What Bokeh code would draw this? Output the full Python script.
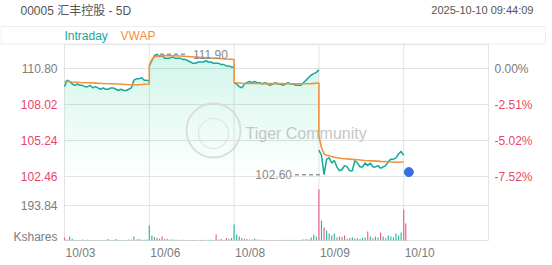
import numpy as np
from bokeh.plotting import figure
from bokeh.models import Range1d, Label
from bokeh.embed import file_html
from bokeh.resources import INLINE

# ---------------- data ----------------
TITLE = "00005 汇丰控股 - 5D"
TIMESTAMP = "2025-10-10  09:44:09"
DAYS = ["10/03", "10/06", "10/08", "10/09", "10/10"]
SESSION_MINUTES = 330
PREV_CLOSE = 110.80
PRICE_TICKS = [110.80, 108.02, 105.24, 102.46]
PCT_LABELS = ["0.00%", "-2.51%", "-5.02%", "-7.52%"]
VOL_TICK = 193.84
VOL_UNIT = "Kshares"
LEGEND = ["Intraday", "VWAP"]
WATERMARK = "Tiger Community"

PRICE_MINUTES = list(range(0, 331, 10))
price_1003 = [109.4, 109.9, 109.8, 109.6, 109.5, 109.6, 109.5, 109.5, 109.4, 109.4,
              109.5, 109.3, 109.4, 109.3, 109.2, 109.3, 109.2, 109.2, 109.3, 109.3,
              109.2, 109.1, 109.2, 109.1, 109.1, 109.2, 109.3, 109.9, 110.0, 110.0,
              110.1, 109.9, 109.9, 109.8]
price_1006 = [111.0, 111.4, 111.8, 111.9, 111.7, 111.8, 111.6, 111.6, 111.6, 111.7,
              111.6, 111.6, 111.6, 111.5, 111.5, 111.4, 111.3, 111.2, 111.2, 111.3,
              111.3, 111.3, 111.4, 111.3, 111.3, 111.2, 111.2, 111.2, 111.1, 111.1,
              111.0, 111.0, 110.9, 110.9]
price_1008 = [109.7, 109.6, 109.4, 109.3, 109.6, 109.7, 109.8, 109.7, 109.8, 109.7,
              109.7, 109.6, 109.7, 109.6, 109.5, 109.6, 109.7, 109.6, 109.6, 109.5,
              109.6, 109.7, 109.6, 109.6, 109.5, 109.5, 109.5, 109.7, 109.9, 110.1,
              110.3, 110.4, 110.5, 110.7]
price_1009 = [104.5, 104.1, 102.6, 103.8, 103.9, 103.5, 103.7, 103.2, 102.9, 103.0,
              103.3, 103.2, 102.9, 102.9, 103.7, 103.5, 103.2, 103.2, 103.5, 103.3,
              103.5, 103.2, 103.2, 103.3, 103.1, 103.2, 103.3, 103.6, 103.8, 103.8,
              103.9, 104.2, 104.4, 104.1]
price_1010_minutes = [20]
price_1010 = [102.8]

VWAP_MINUTES = [0, 10, 20, 30, 60, 90, 120, 150, 180, 210, 240, 270, 300, 330]
vwap_1003 = [109.80, 109.80, 109.79, 109.76, 109.72, 109.70, 109.67, 109.64, 109.62,
             109.60, 109.56, 109.53, 109.56, 109.60]
vwap_1006 = [111.05, 111.50, 111.70, 111.75, 111.80, 111.79, 111.77, 111.73, 111.69,
             111.65, 111.61, 111.57, 111.53, 111.50]
vwap_1008 = [109.72, 109.70, 109.68, 109.66, 109.64, 109.64, 109.63, 109.63, 109.63,
             109.62, 109.62, 109.62, 109.63, 109.68]
vwap_1009 = [105.60, 104.70, 104.20, 104.10, 103.95, 103.85, 103.80, 103.75, 103.70,
             103.67, 103.63, 103.60, 103.56, 103.58]

VOL_MINUTES = list(range(0, 321, 10))
vol_1003 = [17, 5, 22, 10, 4, 3, 3, 6, 3, 4, 3, 3, 3, 3, 3, 3, 4, 8, 3, 3, 8, 4, 3, 3, 3,
            5, 4, 22, 6, 8, 4, 4, 6]
dir_1003 = [-1, 1, 1, 1, 0, 1, -1, 1, 0, -1, 1, 0, -1, 1, 0, 1, -1, 1, 0, -1, 1, 1, 0, -1,
            1, 0, -1, 1, 1, -1, 0, 1, 1]
vol_1006 = [83, 28, 20, 15, 10, 22, 8, 10, 5, 6, 4, 4, 3, 4, 3, 3, 3, 3, 3, 3, 3, 3, 4, 3,
            4, 3, 33, 6, 8, 3, 14, 10, 14]
dir_1006 = [1, 1, 1, -1, 1, -1, 1, 0, -1, 1, 0, -1, 1, 0, 1, -1, 0, 1, -1, 0, 1, -1, 0, 1,
            1, -1, -1, 1, -1, 0, -1, 1, 1]
vol_1008 = [89, 33, 22, 14, 10, 8, 5, 5, 11, 5, 4, 4, 3, 3, 3, 3, 3, 3, 3, 4, 3, 3, 3, 4,
            3, 3, 4, 6, 8, 6, 17, 33, 22]
dir_1008 = [1, 1, -1, 1, -1, 1, 0, -1, 1, 0, 1, -1, 0, 1, -1, 0, 1, 0, -1, 1, 0, -1, 1, 0,
            -1, 1, 1, 1, 1, -1, 1, 1, 1]
vol_1009 = [282, 111, 72, 55, 39, 28, 39, 17, 22, 20, 28, 11, 14, 17, 11, 14, 8, 14, 17, 50,
            22, 14, 22, 17, 44, 22, 14, 28, 22, 17, 39, 28, 44]
dir_1009 = [-1, 1, -1, 1, 1, -1, 1, 0, -1, 1, -1, 0, 1, 1, -1, 0, 1, 1, 1, -1, 1, 0, -1, 1,
            -1, 1, 0, 1, 1, 1, 1, 1, 1]
vol_1010_minutes = [0, 8]
vol_1010 = [172, 94]
dir_1010 = [-1, -1]

# ---------------- style / layout ----------------
FONT = "Liberation Sans, Noto Sans CJK SC"
GRID = "#e3e3e3"
GRAY = "#7c7c7c"
RED = "#e8476a"
TEAL = "#15a99b"
ORANGE = "#f3913a"
FILL = "#22d39a"
BAR_COLORS = {1: "#2bb9a4", -1: "#ee5c80", 0: "#9b9b9b"}
DOT = "#3a6fe3"

W, H = 552, 265
PLOT_L, PLOT_R, PLOT_T, PLOT_B = 64, 488, 44, 240
TICK0_PX, TICK_STEP_PX = 68, 36
VOL_TICK_PX = 205

X_END = SESSION_MINUTES * len(DAYS)
PX2MIN = X_END / (PLOT_R - PLOT_L)
PPX = (PRICE_TICKS[0] - PRICE_TICKS[1]) / TICK_STEP_PX
VPX = VOL_TICK / (PLOT_B - VOL_TICK_PX)


def fx(px):
    return (px - PLOT_L) * PX2MIN


def fy(px):
    return PRICE_TICKS[0] + (TICK0_PX - px) * PPX


p = figure(width=W, height=H, x_range=Range1d(fx(0), fx(W)), y_range=Range1d(fy(H), fy(0)),
           output_backend="svg", toolbar_location=None, x_axis_location=None,
           y_axis_location=None, min_border=0)
p.outline_line_color = None
p.grid.visible = False
p.extra_y_ranges = {"vol": Range1d(-(H - PLOT_B) * VPX, PLOT_B * VPX)}

Y_TOP, Y_BOT = fy(PLOT_T), fy(PLOT_B)

# legend strip box
p.quad(left=[fx(0.5)], right=[fx(545)], top=[fy(26)], bottom=[fy(43.5)],
       fill_color=None, line_color="#eeeeee", line_width=1)

# grid lines
day_edges = [i * SESSION_MINUTES for i in range(len(DAYS) + 1)]
p.segment(x0=day_edges, y0=[Y_BOT] * len(day_edges), x1=day_edges, y1=[Y_TOP] * len(day_edges),
          line_color=GRID, line_width=1)
p.segment(x0=[0] * len(PRICE_TICKS), y0=PRICE_TICKS, x1=[X_END] * len(PRICE_TICKS),
          y1=PRICE_TICKS, line_color=GRID, line_width=1)
p.segment(x0=[0], y0=[VOL_TICK], x1=[X_END], y1=[VOL_TICK], y_range_name="vol",
          line_color=GRID, line_width=1)
p.segment(x0=[0, 0], y0=[Y_TOP, Y_BOT], x1=[X_END, X_END], y1=[Y_TOP, Y_BOT],
          line_color=GRID, line_width=1)

day_prices = [price_1003, price_1006, price_1008, price_1009]
day_vwaps = [vwap_1003, vwap_1006, vwap_1008, vwap_1009]

# gradient fill under intraday line
FILL_LO, FILL_HI, N_BANDS = 102.5, 112.0, 24
edges = np.linspace(FILL_LO, Y_TOP, N_BANDS + 1)
for d, prices in enumerate(day_prices):
    xs = d * SESSION_MINUTES + np.array(PRICE_MINUTES)
    ys = np.array(prices)
    for k in range(N_BANDS):
        lo, hi = edges[k], edges[k + 1]
        mid = min((lo + hi) / 2, FILL_HI)
        a = 0.21 * (mid - FILL_LO) / (FILL_HI - FILL_LO)
        p.varea(x=xs, y1=np.full_like(ys, lo), y2=np.clip(ys, lo, hi),
                fill_color=FILL, fill_alpha=a)

# watermark
p.scatter([fx(213)], [fy(130)], size=54, fill_color=None, line_color="#dadada", line_width=1.8)
p.scatter([fx(213)], [fy(133)], size=30, fill_color=None, line_color="#e2e2e2", line_width=1.2)
p.add_layout(Label(x=fx(245), y=fy(133), text=WATERMARK, text_align="left",
                   text_baseline="middle", text_font=FONT, text_font_size="16px",
                   text_color="#c6c6c6"))

# volume bars
vxs, vtops, vcols = [], [], []
for d, (vols, dirs) in enumerate([(vol_1003, dir_1003), (vol_1006, dir_1006),
                                   (vol_1008, dir_1008), (vol_1009, dir_1009)]):
    vxs += [d * SESSION_MINUTES + m for m in VOL_MINUTES]
    vtops += vols
    vcols += [BAR_COLORS[s] for s in dirs]
vxs += [4 * SESSION_MINUTES + m for m in vol_1010_minutes]
vtops += vol_1010
vcols += [BAR_COLORS[s] for s in dir_1010]
p.vbar(x=vxs, top=vtops, bottom=0, width=4.5, y_range_name="vol",
       fill_color=vcols, line_color=None)

# intraday line
for d, prices in enumerate(day_prices):
    xs = d * SESSION_MINUTES + np.array(PRICE_MINUTES)
    p.line(xs, prices, line_color=TEAL, line_width=1.5)

# VWAP line (continuous)
vx, vy = [], []
for d, vw in enumerate(day_vwaps):
    vx += [d * SESSION_MINUTES + m for m in VWAP_MINUTES]
    vy += vw
p.line(vx, vy, line_color=ORANGE, line_width=1.6)

# last price dot
last_x = 4 * SESSION_MINUTES + price_1010_minutes[-1]
p.scatter([last_x], [price_1010[-1]], size=9, fill_color=DOT, line_color=DOT)

# max / min markers
all_x, all_y = [], []
for d, prices in enumerate(day_prices):
    all_x += [d * SESSION_MINUTES + m for m in PRICE_MINUTES]
    all_y += prices
imax, imin = int(np.argmax(all_y)), int(np.argmin(all_y))
mx, my = all_x[imax], all_y[imax]
nx, ny = all_x[imin], all_y[imin]
p.segment(x0=[mx + 3 * PX2MIN], y0=[my], x1=[mx + 31 * PX2MIN], y1=[my],
          line_color="#9a9a9a", line_width=1.5, line_dash="4 3")
p.segment(x0=[nx - 29 * PX2MIN], y0=[ny], x1=[nx - 2 * PX2MIN], y1=[ny],
          line_color="#9a9a9a", line_width=1.5, line_dash="4 3")
p.add_layout(Label(x=mx, y=my, x_offset=36, text=f"{my:.2f}", text_align="left",
                   text_baseline="middle", text_font=FONT, text_font_size="12px",
                   text_color="#8a8a8a"))
p.add_layout(Label(x=nx, y=ny, x_offset=-32, text=f"{ny:.2f}", text_align="right",
                   text_baseline="middle", text_font=FONT, text_font_size="12px",
                   text_color="#8a8a8a"))

# y labels (left: price, right: percent)
for t, pct in zip(PRICE_TICKS, PCT_LABELS):
    col = GRAY if abs(t - PREV_CLOSE) < 1e-9 else RED
    p.add_layout(Label(x=fx(57), y=t, text=f"{t:.2f}", text_align="right",
                       text_baseline="middle", text_font=FONT, text_font_size="12px",
                       text_color=col))
    p.add_layout(Label(x=fx(494), y=t, text=pct, text_align="left",
                       text_baseline="middle", text_font=FONT, text_font_size="12px",
                       text_color=col))
p.add_layout(Label(x=fx(57), y=VOL_TICK, y_range_name="vol", text=f"{VOL_TICK:.2f}",
                   text_align="right", text_baseline="middle", text_font=FONT,
                   text_font_size="12px", text_color=GRAY))
p.add_layout(Label(x=fx(57), y=fy(236), text=VOL_UNIT, text_align="right",
                   text_baseline="middle", text_font=FONT, text_font_size="12px",
                   text_color=GRAY))

# x labels
for d, lab in enumerate(DAYS):
    p.add_layout(Label(x=d * SESSION_MINUTES, y=fy(252), x_offset=1, text=lab,
                       text_align="left", text_baseline="middle", text_font=FONT,
                       text_font_size="12px", text_color=GRAY))

# header: title, timestamp, legend
p.add_layout(Label(x=fx(20), y=fy(10), text=TITLE, text_align="left",
                   text_baseline="middle", text_font=FONT, text_font_size="12px",
                   text_color="#555555"))
p.add_layout(Label(x=fx(536), y=fy(9), text=TIMESTAMP, text_align="right",
                   text_baseline="middle", text_font=FONT, text_font_size="11px",
                   text_color="#555555"))
p.add_layout(Label(x=fx(64), y=fy(35), text=LEGEND[0], text_align="left",
                   text_baseline="middle", text_font=FONT, text_font_size="12px",
                   text_color=TEAL))
p.add_layout(Label(x=fx(120), y=fy(35), text=LEGEND[1], text_align="left",
                   text_baseline="middle", text_font=FONT, text_font_size="12px",
                   text_color=ORANGE))

open("out.html", "w").write(file_html(p, INLINE))
